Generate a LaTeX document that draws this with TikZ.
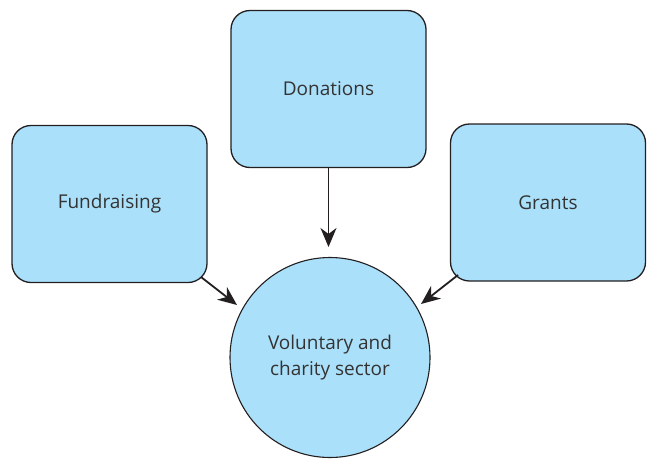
\documentclass[tikz,border=0pt]{standalone}
\usepackage{fontspec}
\setmainfont{Open Sans}
\usetikzlibrary{arrows.meta}
\definecolor{boxblue}{HTML}{ABE0FA}
\definecolor{inkgray}{HTML}{231F20}
\definecolor{txtgray}{HTML}{333333}
\begin{document}
\begin{tikzpicture}[x=1pt,y=-1pt,
  srcbox/.style={draw=inkgray, line width=1.3pt, fill=boxblue, rounded corners=19pt,
    minimum width=195pt, minimum height=157pt, inner sep=0pt,
    font=\fontsize{19}{26}\selectfont, text=txtgray},
  hub/.style={circle, draw=inkgray, line width=1.1pt, fill=boxblue,
    minimum size=200pt, inner sep=0pt, align=center,
    font=\fontsize{19}{26}\selectfont, text=txtgray},
  feed/.style={draw=inkgray, line width=1.8pt,
    -{Stealth[length=19pt,width=16pt,inset=6pt]}}]
\useasboundingbox (0,0) rectangle (647,458);
\node[srcbox] (don) at (328.5,89) {Donations};
\node[srcbox] (fund) at (109.5,204) {Fundraising};
\node[srcbox] (gra) at (548,202.5) {Grants};
\node[hub] (vol) at (330,357.5) {Voluntary and\\charity sector};
\coordinate (donEnd) at (328.5,247);
\coordinate (fundStart) at (201,277);
\coordinate (fundEnd) at (237,305);
\coordinate (graStart) at (458,275);
\coordinate (graEnd) at (421,304);
\draw[feed] (don.south) -- (donEnd);
\draw[feed] (fundStart) -- (fundEnd);
\draw[feed] (graStart) -- (graEnd);
\end{tikzpicture}
\end{document}
